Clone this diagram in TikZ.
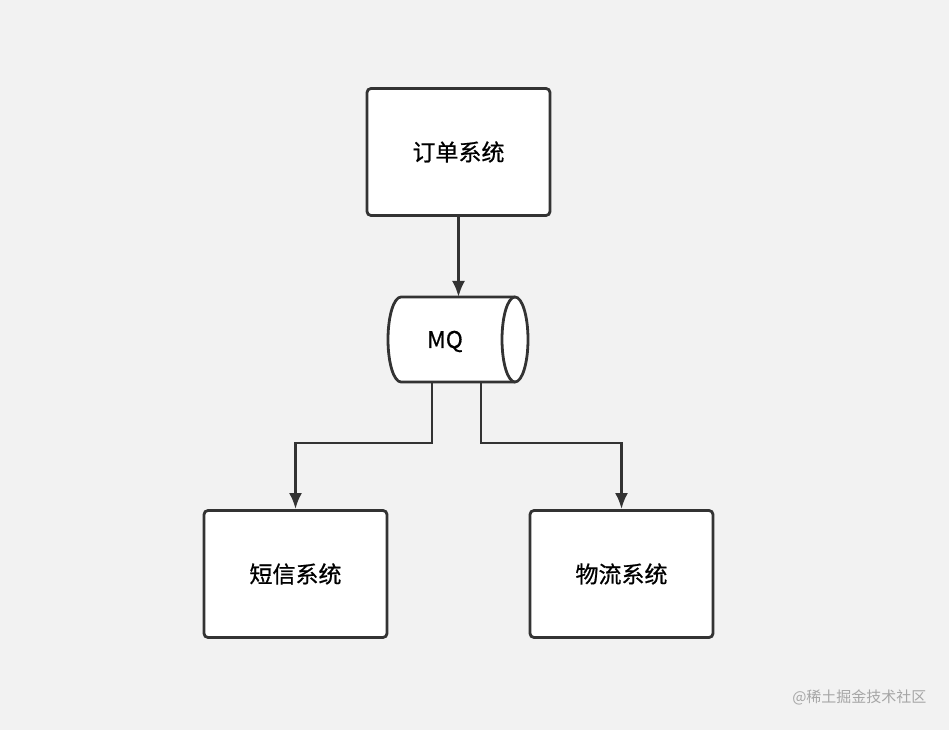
\documentclass[tikz,border=0pt]{standalone}
\usepackage{fontspec}
\setmainfont{Noto Sans CJK SC}
\newfontfamily\medfont{Noto Sans CJK SC}[FakeBold=0.7]
\usetikzlibrary{arrows.meta}
\begin{document}
\begin{tikzpicture}[x=1pt,y=1pt,
  box/.style={draw=black!80,line width=2.8pt,rounded corners=4pt,fill=white,minimum width=183pt,minimum height=127pt,font=\medfont\fontsize{23}{26}\selectfont},
  conn/.style={draw=black!80,line width=2.8pt,-{Latex[length=16pt,width=13pt]}}]
\fill[black!5] (0,0) rectangle (949,730);
\useasboundingbox (0,0) rectangle (949,730);
\node[box] (order) at (458.5,578) {订单系统};
\node[box] (sms) at (295.5,156) {短信系统};
\node[box] (log) at (621.5,156) {物流系统};
% cylinder
\draw[black!80,line width=2.8pt,fill=white] (515,433) -- (401,433) arc[start angle=90,end angle=270,x radius=13,y radius=42.5] -- (515,348);
\draw[black!80,line width=2.8pt,fill=white] (515,390.5) ellipse[x radius=13,y radius=42.5];
\node[font=\medfont\fontsize{23}{26}\selectfont] (mq) at (445,388.5) {MQ};
\coordinate (mqtop) at (458.5,433);
\coordinate (mqL) at (432,348);
\coordinate (mqR) at (481,348);
\draw[conn] (order.south) -- (mqtop);
\draw[conn] (mqL) |- (295.5,287) -- (sms.north);
\draw[conn] (mqR) |- (621.5,287) -- (log.north);
\node[anchor=east,text=black!35,font=\fontsize{15}{17}\selectfont] (wm) at (930,33) {@稀土掘金技术社区};
\end{tikzpicture}
\end{document}
